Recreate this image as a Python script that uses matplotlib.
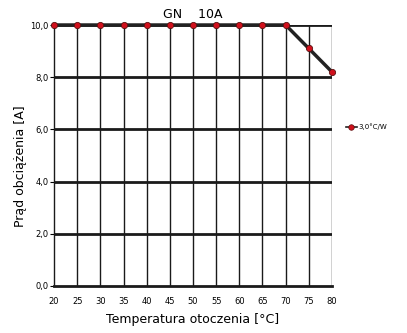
import matplotlib
matplotlib.use("Agg")
import matplotlib.pyplot as plt
from matplotlib.lines import Line2D

temps = [20, 25, 30, 35, 40, 45, 50, 55, 60, 65, 70, 75, 80]
current = [10.0, 10.0, 10.0, 10.0, 10.0, 10.0, 10.0, 10.0, 10.0, 10.0, 10.0, 9.1, 8.2]
series_label = "3,0°C/W"
yticks = [0.0, 2.0, 4.0, 6.0, 8.0, 10.0]
ytick_labels = ["0,0", "2,0", "4,0", "6,0", "8,0", "10,0"]

fig = plt.figure(figsize=(4.07, 3.33), dpi=100)
ax = fig.add_axes([54/407, 47/333, (332-54)/407, (286-25)/333])

ax.set_xlim(20, 80)
ax.set_ylim(0, 10)
for x in temps[1:]:
    ax.axvline(x, color="#1a1a1a", lw=1.0, zorder=1)
for y in yticks[1:]:
    ax.axhline(y, color="#1a1a1a", lw=2.0, zorder=1)

ax.plot(temps, current, color="#222222", lw=2.5, marker="o", ms=4.5,
        mfc="#d0101c", mec="#5a1010", mew=0.6, zorder=3, clip_on=False)

for s in ["top", "right"]:
    ax.spines[s].set_visible(False)
ax.spines["left"].set_linewidth(1.0)
ax.spines["bottom"].set_linewidth(2.0)
ax.spines["left"].set_color("#1a1a1a")
ax.spines["bottom"].set_color("#1a1a1a")

ax.set_xticks(temps)
ax.set_xticklabels([str(t) for t in temps], fontsize=6)
ax.set_yticks(yticks)
ax.set_yticklabels(ytick_labels, fontsize=6)
ax.tick_params(axis="x", length=0, pad=8)
ax.tick_params(axis="y", length=3, width=0.8, pad=1, direction="out")

ax.set_xlabel("Temperatura otoczenia [°C]", fontsize=9, labelpad=5)
ax.set_ylabel("Prąd obciążenia [A]", fontsize=9)
ax.yaxis.set_label_coords(-0.097, 0.46)
fig.text(193/407, 1 - 14/333, "GN    10A", fontsize=9, ha="center", va="center")

handle = Line2D([], [], color="#222222", lw=1.2, marker="o", ms=4,
                mfc="#d0101c", mec="#5a1010", mew=0.5)
fig.legend([handle], [series_label], loc="center left",
           bbox_to_anchor=(340/407, 1 - 127/333), frameon=False,
           fontsize=5, handlelength=1.5, handletextpad=0.2)

fig.savefig("out.png", dpi=100)
